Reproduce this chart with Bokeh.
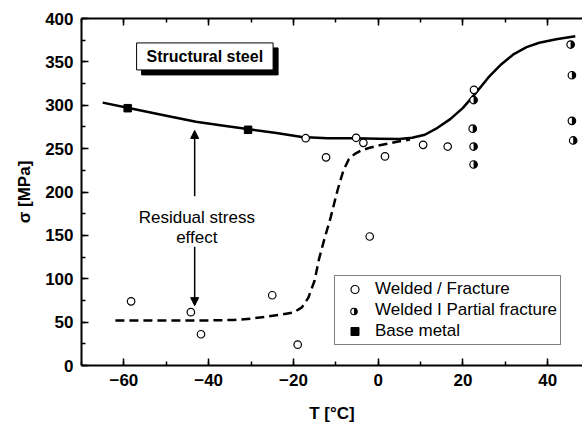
import math
from bokeh.plotting import figure
from bokeh.models import (Range1d, LinearAxis, SingleIntervalTicker, Label, Legend,
                          LegendItem, Arrow, NormalHead)
from bokeh.embed import file_html
from bokeh.resources import INLINE

# ---- data ----
fracture_T = [-58.3, -44.2, -41.8, -25.0, -19.0, -17.1, -12.3, -5.2, -3.5, -2.0, 1.6, 10.6, 16.4, 22.6]
fracture_s = [74.0, 61.5, 36.0, 81.0, 24.0, 262.0, 240.0, 262.5, 256.7, 148.7, 241.0, 254.4, 252.4, 317.8]

partial_T = [22.5, 22.3, 22.5, 22.5, 45.4, 45.7, 45.7, 46.0]
partial_s = [306.0, 273.0, 252.4, 231.7, 370.0, 334.6, 282.0, 259.4]

base_T = [-59.1, -30.7]
base_s = [296.6, 271.7]

solid_T = [-65, -58, -50, -43, -36, -30, -24, -18, -12, -6, 0, 5, 8, 11, 14, 17, 20, 23, 26, 29, 32, 35, 38, 42, 46.5]
solid_s = [303, 296, 288, 281, 276, 272, 268, 263.5, 262, 262, 261.5, 261, 262.5, 266, 274, 284, 297, 314, 332, 347, 359, 367, 372, 376, 379.5]

dash_T = [-62, -55, -48, -40, -34, -30, -26, -23, -20, -18, -16.5, -15, -14, -12.8, -11.2, -9.6, -8.2, -6.9, -5.5, -4, -2, 0, 2.5, 5, 7.5]
dash_s = [52, 52, 52, 52, 52.5, 54, 56.5, 58.5, 61, 67, 78, 98, 122, 144, 171, 202, 225, 238, 244, 248, 251, 253.5, 256, 258.5, 260.5]

x_label = "T [°C]"
y_label = "σ [MPa]"
legend_labels = ["Welded / Fracture", "Welded I Partial fracture", "Base metal"]

FONT = "Liberation Sans"

W, H = 582, 430
ML, MT, MB = 81, 18, 65
FW, FH = W - ML, H - MT - MB  # frame size in pixels

p = figure(width=W, height=H, x_range=Range1d(-70, 48.2), y_range=Range1d(0, 400),
           output_backend="svg", toolbar_location=None,
           min_border_left=ML, min_border_right=0, min_border_top=MT, min_border_bottom=MB)
p.outline_line_color = None
p.grid.visible = False
p.background_fill_color = "white"
p.border_fill_color = "white"
# pixel ranges for the legend's half-filled symbol
p.extra_x_ranges = {"px": Range1d(0, FW)}
p.extra_y_ranges = {"px": Range1d(0, FH)}

def style_axis(ax):
    ax.axis_line_width = 2
    ax.axis_line_color = "black"
    ax.major_tick_in = 7
    ax.major_tick_out = 0
    ax.minor_tick_in = 4
    ax.minor_tick_out = 0
    ax.major_tick_line_width = 1.5
    ax.minor_tick_line_width = 1.5
    ax.major_tick_line_color = "black"
    ax.minor_tick_line_color = "black"
    ax.major_label_text_font = FONT
    ax.major_label_text_font_style = "bold"
    ax.major_label_text_font_size = "17px"
    ax.major_label_text_color = "black"
    ax.major_label_standoff = 8
    ax.axis_label_text_font = FONT
    ax.axis_label_text_font_style = "bold"
    ax.axis_label_text_font_size = "17px"
    ax.axis_label_text_color = "black"

xa = p.xaxis[0]
xa.ticker = SingleIntervalTicker(interval=20, num_minor_ticks=2)
style_axis(xa)
xa.axis_label = x_label
xa.axis_label_standoff = 15

ya = p.yaxis[0]
ya.ticker = SingleIntervalTicker(interval=50, num_minor_ticks=2)
style_axis(ya)
ya.axis_label = y_label
ya.axis_label_standoff = 8

top = LinearAxis(ticker=SingleIntervalTicker(interval=20, num_minor_ticks=2))
style_axis(top)
top.major_label_text_font_size = "1px"
top.major_label_text_color = None
top.major_label_standoff = 0
p.add_layout(top, "above")

# curves
p.line(solid_T, solid_s, line_color="black", line_width=2.5, line_join="round")
p.line(dash_T, dash_s, line_color="black", line_width=2.5, line_dash="9 5")

# markers
r_frac = p.scatter(fracture_T, fracture_s, marker="circle", size=7.5, fill_color="white",
                   line_color="black", line_width=1.2)
r_part = p.scatter(partial_T, partial_s, marker="circle", size=7.5, fill_color="white",
                   line_color="black", line_width=1.2)
p.wedge(partial_T, partial_s, radius=3.75, radius_units="screen", start_angle=-math.pi / 2,
        end_angle=math.pi / 2, fill_color="black", line_color=None)
r_base = p.scatter(base_T, base_s, marker="square", size=7.5, fill_color="black", line_color="black")

# arrows and annotation text
p.add_layout(Arrow(x_start=-43.3, y_start=195, x_end=-43.3, y_end=271,
                   line_width=1.5, line_color="black",
                   end=NormalHead(size=8, fill_color="black", line_color="black")))
p.add_layout(Arrow(x_start=-43.3, y_start=137, x_end=-43.3, y_end=69,
                   line_width=1.5, line_color="black",
                   end=NormalHead(size=8, fill_color="black", line_color="black")))
for txt, yy in [("Residual stress", 170.6), ("effect", 147.5)]:
    p.add_layout(Label(x=-42.8, y=yy, text=txt, text_align="center", text_baseline="alphabetic",
                       text_font=FONT, text_font_size="17px", text_color="black"))

# "Structural steel" box with shadow
box_kw = dict(x=-40.9, y=356.3, text="Structural steel", text_align="center", text_baseline="middle",
              text_font=FONT, text_font_size="16px", text_font_style="bold",
              padding=dict(left=10, right=10, top=5, bottom=5))
p.add_layout(Label(x_offset=5, y_offset=-5, text_color="black", background_fill_color="black",
                   border_line_color="black", **box_kw))
p.add_layout(Label(text_color="black", background_fill_color="white",
                   border_line_color="black", border_line_width=1, **box_kw))

# legend (transparent background so the half-filled symbol below it shows through)
LEG_X, LEG_Y, PAD, GW, ROW, SP = 253, 20, 3, 33, 20, 1
r_leg_part = p.scatter([], [], marker="circle", size=6, fill_alpha=0, line_alpha=0)
legend = Legend(items=[LegendItem(label=legend_labels[0], renderers=[r_frac]),
                       LegendItem(label=legend_labels[1], renderers=[r_leg_part]),
                       LegendItem(label=legend_labels[2], renderers=[r_base])],
                location=(LEG_X, LEG_Y), orientation="vertical",
                label_text_font=FONT, label_text_font_size="17px", label_text_color="black",
                border_line_color="black", border_line_width=1,
                background_fill_color="white", background_fill_alpha=0,
                padding=PAD, spacing=SP, glyph_width=GW, glyph_height=ROW, label_height=ROW,
                label_standoff=4, margin=0)
p.add_layout(legend)

# half-filled legend symbol, positioned in frame pixels over the second legend row
sym_x = LEG_X + PAD + GW / 2
sym_y = LEG_Y + PAD + ROW + SP + ROW / 2
p.scatter([sym_x], [sym_y], x_range_name="px", y_range_name="px", marker="circle", size=6.5,
          fill_color="white", line_color="black", line_width=1.1, level="overlay")
p.wedge([sym_x], [sym_y], x_range_name="px", y_range_name="px", radius=3.25, radius_units="screen",
        start_angle=-math.pi / 2, end_angle=math.pi / 2, fill_color="black", line_color=None,
        level="overlay")

open("out.html", "w").write(file_html(p, INLINE))
